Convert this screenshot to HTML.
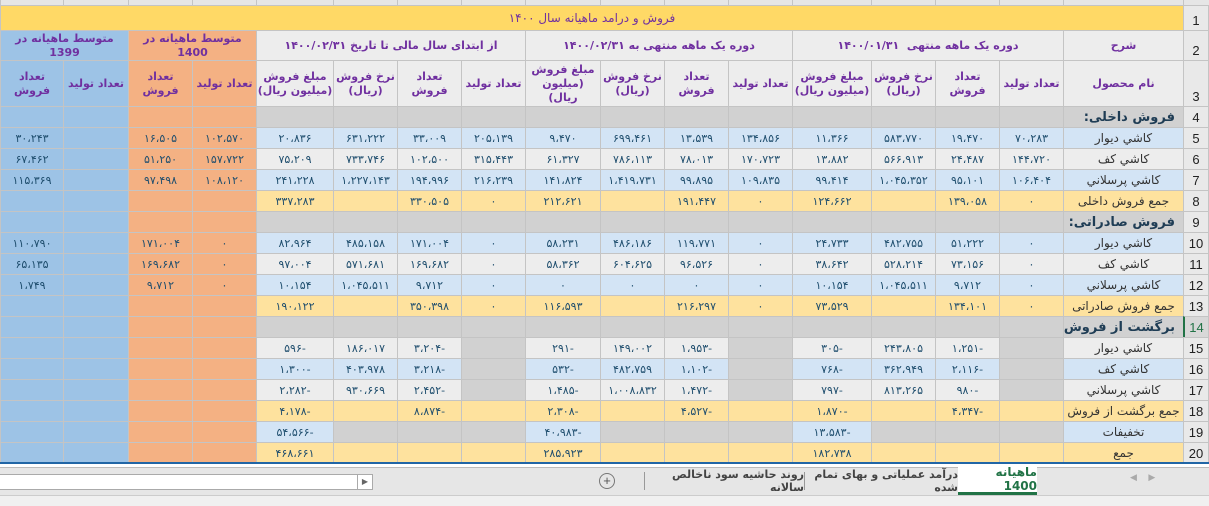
<!DOCTYPE html>
<html><head><meta charset="utf-8"><style>
body{margin:0;width:1209px;height:505px;overflow:hidden;background:#fff;font-family:"DejaVu Sans","Liberation Sans",sans-serif;position:relative}
.c{position:absolute;box-sizing:border-box;border:1px solid #c4c4c4;display:flex;align-items:center;justify-content:center;text-align:center;font-size:11px;color:#1f4e6e;white-space:nowrap;overflow:hidden;direction:rtl}
.h{color:#7030a0;font-weight:bold;font-size:11px;line-height:14px;white-space:normal}
.lbl{color:#333;font-size:12px}
.sec{color:#1f3d55;font-weight:bold;font-size:13px;justify-content:flex-start;padding-right:8px}
.rh{position:absolute;left:1183px;width:26px;box-sizing:border-box;border:1px solid #c4c4c4;background:#e9e9e9;font-family:"Liberation Sans",sans-serif;font-size:13px;color:#222;display:flex;align-items:flex-end;justify-content:center;padding-bottom:2px}
</style></head><body>
<div id="sheet"></div>
<div style="position:absolute;left:0;top:464px;width:1209px;height:3px;background:#fff;border-top:2px solid #2166a6;box-sizing:content-box;top:462px"></div>
<div style="position:absolute;left:0;top:467px;width:1209px;height:28px;background:#e6e6e6;border-top:1px solid #bbb"></div>
<div style="position:absolute;left:0;top:495px;width:1209px;height:10px;background:#f0f0f0;border-top:1px solid #ccc"></div>
<div style="position:absolute;left:-2px;top:474px;width:360px;height:14px;background:#fff;border:1px solid #aaa"></div>
<div style="position:absolute;left:357px;top:474px;width:14px;height:14px;background:#fff;border:1px solid #aaa;font-size:8px;color:#666;text-align:center;line-height:14px">▶</div>
<div style="position:absolute;left:599px;top:473px;width:14px;height:14px;border:1px solid #777;border-radius:50%;font-size:13px;line-height:14px;text-align:center;color:#555;font-family:'Liberation Sans',sans-serif">+</div>
<div style="position:absolute;left:644px;top:472px;width:1px;height:18px;background:#999"></div>
<div style="position:absolute;left:645px;top:467px;width:159px;height:27px;font-size:11px;font-weight:bold;color:#444;display:flex;align-items:center;justify-content:center;direction:rtl">روند حاشیه سود ناخالص سالانه</div>
<div style="position:absolute;left:804px;top:472px;width:1px;height:18px;background:#999"></div>
<div style="position:absolute;left:805px;top:467px;width:153px;height:27px;font-size:11px;font-weight:bold;color:#444;display:flex;align-items:center;justify-content:center;direction:rtl">درآمد عملیاتی و بهای تمام شده</div>
<div style="position:absolute;left:958px;top:466px;width:79px;height:26px;background:#fff;border-bottom:3px solid #217346;font-size:12px;font-weight:bold;color:#217346;display:flex;align-items:center;justify-content:center;direction:rtl">ماهیانه 1400</div>
<div style="position:absolute;left:1130px;top:473px;width:40px;height:14px;font-size:9px;color:#aaa">◀&nbsp;&nbsp;&nbsp;&nbsp;▶</div>
<script>
const colX=[1063,999,935,871,792,728,664,600,525,461,397,333,256,192,128,63,0];
const colEnd=[1183,1063,999,935,871,792,728,664,600,525,461,397,333,256,192,128,63];
const rowLabels={5:'کاشي دیوار',6:'کاشي کف',7:'کاشي پرسلاني',8:'جمع فروش داخلی',10:'کاشي دیوار',11:'کاشي کف',12:'کاشي پرسلاني',13:'جمع فروش صادراتی',15:'کاشي دیوار',16:'کاشي کف',17:'کاشي پرسلاني',18:'جمع برگشت از فروش',19:'تخفیفات',20:'جمع'};
const sections={4:'فروش داخلی:',9:'فروش صادراتی:',14:'برگشت از فروش:'};
const row5=['70,283','19,470','583,770','11,366','134,856','13,539','699,461','9,470','205,139','33,009','631,222','20,836','102,570','16,505','','30,243'];
const row6=['144,720','24,487','566,913','13,882','170,723','78,013','786,113','61,327','315,443','102,500','733,746','75,209','157,722','51,250','','67,462'];
const row7=['106,404','95,101','1,045,352','99,414','109,835','99,895','1,419,731','141,824','216,239','194,996','1,227,143','241,228','108,120','97,498','','115,369'];
const row8=['0','139,058','','124,662','0','191,447','','212,621','0','330,505','','337,283','','','',''];
const row10=['0','51,222','482,755','24,733','0','119,771','486,186','58,231','0','171,004','485,158','82,964','0','171,004','','110,790'];
const row11=['0','73,156','528,214','38,642','0','96,526','604,625','58,362','0','169,682','571,681','97,004','0','169,682','','65,135'];
const row12=['0','9,712','1,045,511','10,154','0','0','0','0','0','9,712','1,045,511','10,154','0','9,712','','1,749'];
const row13=['0','134,101','','73,529','0','216,297','','116,593','0','350,398','','190,122','','','',''];
const row15=['','-1,251','243,805','-305','','-1,953','149,002','-291','','-3,204','186,017','-596','','','',''];
const row16=['','-2,116','362,949','-768','','-1,102','482,759','-532','','-3,218','403,978','-1,300','','','',''];
const row17=['','-980','813,265','-797','','-1,472','1,008,832','-1,485','','-2,452','930,669','-2,282','','','',''];
const row18=['','-4,347','','-1,870','','-4,527','','-2,308','','-8,874','','-4,178','','','',''];
const row19=['','','','-13,583','','','','-40,983','','','','-54,566','','','',''];
const row20=['','','','182,738','','','','285,923','','','','468,661','','','',''];
const rowData={5:row5,6:row6,7:row7,8:row8,10:row10,11:row11,12:row12,13:row13,15:row15,16:row16,17:row17,18:row18,19:row19,20:row20};
const BLUE='#d3e4f5',LG='#ededed',GR='#d1d1d1',YEL='#fee29e',ORG='#f4b183',BLU='#9dc3e6';
const rowFill={4:GR,5:BLUE,6:LG,7:BLUE,8:YEL,9:GR,10:BLUE,11:LG,12:BLUE,13:YEL,14:GR,15:LG,16:BLUE,17:LG,18:YEL,19:BLUE,20:YEL};
const sheet=document.getElementById('sheet');
function fa(s){return s.replace(/[0-9]/g,d=>'۰۱۲۳۴۵۶۷۸۹'[d]).replace(/,/g,'،');}
function rowY(r){return 106+21*(r-4);}
function cell(x,y,w,h,bg,txt,cls,name){
  const d=document.createElement('div');
  d.className='c '+(cls||'');
  d.style.left=x+'px';d.style.top=y+'px';d.style.width=(w+1)+'px';d.style.height=(h+1)+'px';d.style.background=bg;
  d.innerHTML=txt||'';
  
  
  sheet.appendChild(d);return d;
}
// column header strip
for(let i=0;i<colX.length;i++){
  const d=cell(colX[i],-10,colEnd[i]-colX[i],15,'#e6e6e6','','','column-header');
}
cell(1183,-10,26,15,'#e6e6e6','','','select-all-corner');
// row 1 title
cell(0,5,1183,25,'#ffd966','<span style="color:#7030a0;font-size:12px">فروش و درامد ماهیانه سال ۱۴۰۰</span>','','report-title');
// row 2 headers
cell(1063,30,120,30,LG,'شرح','h','description-header');
cell(792,30,271,30,LG,'دوره یک ماهه منتهی&nbsp; ۱۴۰۰/۰۱/۳۱','h','period-farvardin-header');
cell(525,30,267,30,LG,'دوره یک ماهه منتهی به ۱۴۰۰/۰۲/۳۱','h','period-ordibehesht-header');
cell(256,30,269,30,LG,'از ابتدای سال مالی تا تاریخ ۱۴۰۰/۰۲/۳۱','h','year-to-date-header');
cell(128,30,128,30,ORG,'متوسط ماهیانه در<br>1400','h','avg-1400-header');
cell(0,30,128,30,BLU,'متوسط ماهیانه در<br>1399','h','avg-1399-header');
// row 3 subheaders
const sub=['نام محصول','تعداد تولید','تعداد<br>فروش','نرخ فروش<br>(ریال)','مبلغ فروش<br>(میلیون ریال)'];
for(let i=0;i<17;i++){
  let t,bg=LG;
  if(i==0)t=sub[0];else if(i<13)t=sub[((i-1)%4)+1];else t=sub[((i-13)%2)+1];
  if(i>=13&&i<=14)bg=ORG;if(i>=15)bg=BLU;
  cell(colX[i],60,colEnd[i]-colX[i],46,bg,t,'h','subheader-col-'+i);
}
// data rows
for(let r=4;r<=20;r++){
  const y=rowY(r);
  for(let i=0;i<17;i++){
    let bg=rowFill[r],t='',cls='';
    if(i>=13&&i<=14)bg=ORG;else if(i>=15)bg=BLU;
    if(i==0){
      if(sections[r]){t=sections[r];cls='sec';}
      else{t=rowLabels[r];cls='lbl';}
    } else if(rowData[r]){
      const v=rowData[r][i-1];t=v?fa(v):'';
      if(r>=15&&r<=17&&(i==1||i==5||i==9))bg=GR;
      if(r==19&&i>0&&i<13&&(i%4)!=0)bg=GR;
    }
    if(r==15&&i==0)bg=LG;
    cell(colX[i],y,colEnd[i]-colX[i],21,bg,t,cls,'cell-r'+r+'-c'+i);
  }
}
// row headers
const rh=[[1,5,25],[2,30,30],[3,60,46]];
for(let r=4;r<=21;r++)rh.push([r,rowY(r),21]);
rh.forEach(a=>{
  const d=document.createElement('div');d.className='rh';
  d.style.top=a[1]+'px';d.style.height=(a[2]+1)+'px';d.textContent=a[0];
  if(a[0]==14){d.style.color='#217346';d.style.background='#d8d8d8';d.style.borderLeft='2px solid #217346';}
  
  
  sheet.appendChild(d);
});
</script>
</body></html>
